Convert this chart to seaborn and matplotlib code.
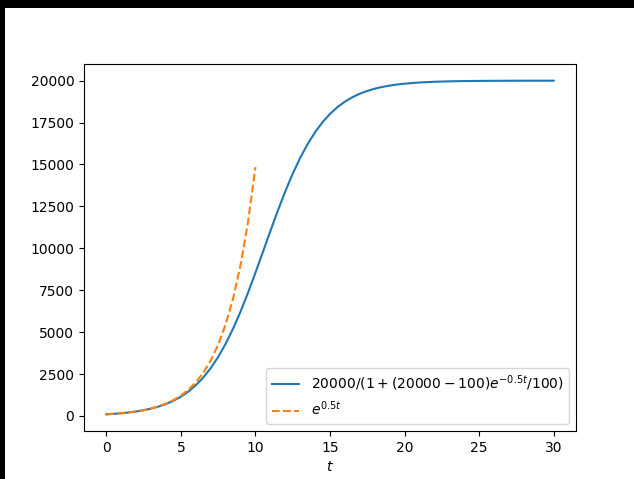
import matplotlib
matplotlib.use("Agg")
import matplotlib.pyplot as plt
import seaborn as sns
import pandas as pd
from matplotlib.patches import Rectangle

# ------------------------------------------------------------
# Values
# ------------------------------------------------------------
t_logistic = [0, 0.5, 1, 1.5, 2, 2.5, 3, 3.5, 4, 4.5, 5, 5.5, 6, 6.5, 7, 7.5,
              8, 8.5, 9, 9.5, 10, 10.5, 11, 11.5, 12, 12.5, 13, 13.5, 14, 14.5,
              15, 15.5, 16, 16.5, 17, 17.5, 18, 18.5, 19, 19.5, 20, 21, 22, 23,
              24, 25, 26, 27, 28, 29, 30]
p_logistic = [100, 128, 164, 210, 270, 345, 440, 562, 716, 910, 1154, 1458,
              1833, 2295, 2853, 3521, 4306, 5211, 6229, 7348, 8544, 9783,
              11030, 12244, 13396, 14450, 15394, 16220, 16927, 17524, 18016,
              18421, 18748, 19011, 19222, 19388, 19520, 19625, 19706, 19771,
              19821, 19891, 19934, 19960, 19976, 19985, 19991, 19995, 19997,
              19998, 19999]

t_exp = [0, 0.5, 1, 1.5, 2, 2.5, 3, 3.5, 4, 4.5, 5, 5.5, 6, 6.5, 7, 7.5, 8,
         8.5, 9, 9.5, 10]
p_exp = [100, 128, 165, 212, 272, 349, 448, 575, 739, 949, 1218, 1564, 2009,
         2579, 3312, 4252, 5460, 7011, 9002, 11558, 14841]

label_logistic = r"$20000/(1+(20000-100)e^{-0.5t}/100)$"
label_exp = r"$e^{0.5t}$"

df_log = pd.DataFrame({"t": t_logistic, "P": p_logistic})
df_exp = pd.DataFrame({"t": t_exp, "P": p_exp})

# ------------------------------------------------------------
# Plot
# ------------------------------------------------------------
fig = plt.figure(figsize=(6.34, 4.79), dpi=100)
fig.patch.set_facecolor("black")
# white canvas, leaving the thin black strips on top and left
fig.patches.append(Rectangle((5 / 634, 0), 1, 1 - 8 / 479, transform=fig.transFigure,
                             facecolor="white", edgecolor="none", zorder=-1))

ax = fig.add_axes([84 / 634, 48 / 479, 492 / 634, 367 / 479])

sns.lineplot(data=df_log, x="t", y="P", ax=ax, color="C0", label=label_logistic)
sns.lineplot(data=df_exp, x="t", y="P", ax=ax, color="C1", linestyle="--",
             label=label_exp)

ax.set_xlabel("$t$")
ax.set_ylabel("")
ax.set_xticks([0, 5, 10, 15, 20, 25, 30])
ax.set_yticks([0, 2500, 5000, 7500, 10000, 12500, 15000, 17500, 20000])
ax.legend(loc="lower right")

fig.savefig("out.png", dpi=100, facecolor=fig.get_facecolor())
